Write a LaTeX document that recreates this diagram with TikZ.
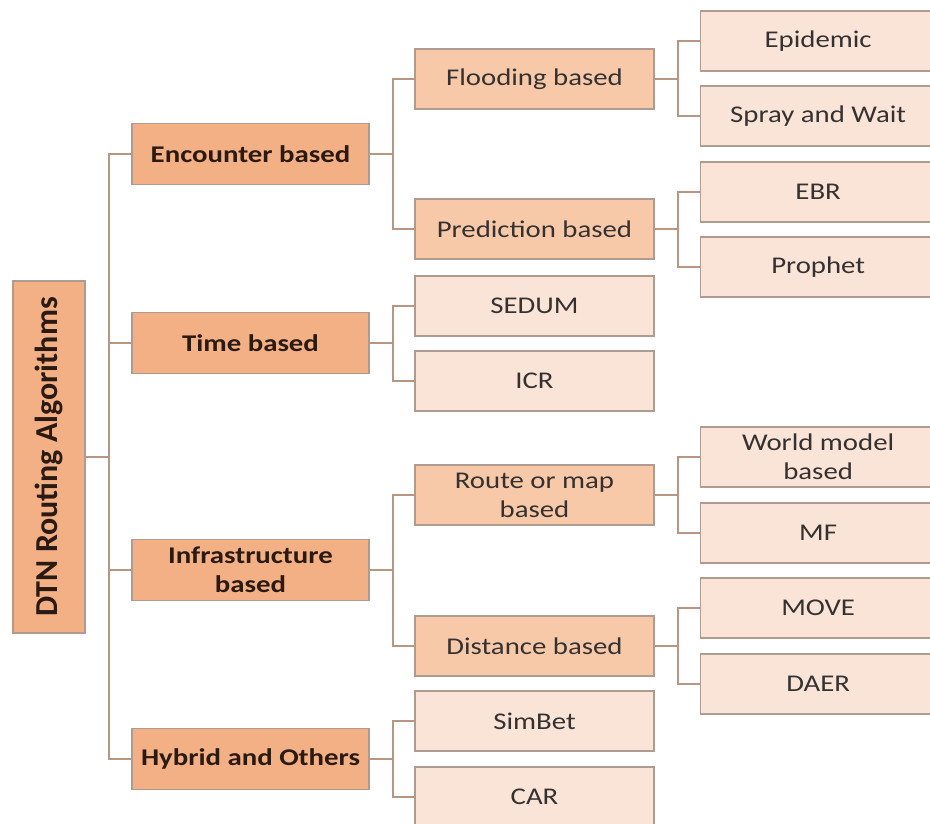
\documentclass[tikz,border=0pt]{standalone}
\usepackage{fontspec}
\setmainfont{Carlito}[FakeStretch=1.2]
\newfontfamily\rootfont{Carlito}
\definecolor{fillTop}{HTML}{F3B085}
\definecolor{fillMid}{HTML}{F7C9A9}
\definecolor{fillLeaf}{HTML}{FAE4D7}
\definecolor{boxLine}{HTML}{AE9C90}
\definecolor{linkLine}{HTML}{B99682}
\definecolor{textTop}{HTML}{2A1A12}
\definecolor{textLow}{HTML}{353130}
\begin{document}
\begin{tikzpicture}[x=1pt,y=-1pt,
  box/.style={draw=boxLine, line width=1.3pt, inner sep=0pt, align=center,
    font=\fontsize{24}{29}\selectfont, text=textLow},
  rootbox/.style={box, fill=fillTop, rotate=90, minimum width=352pt, minimum height=72pt,
    font=\rootfont\fontsize{32}{36}\selectfont\bfseries, text=textTop},
  topbox/.style={box, fill=fillTop, minimum width=237pt, minimum height=61pt,
    font=\fontsize{24}{29}\selectfont\bfseries, text=textTop},
  midbox/.style={box, fill=fillMid, minimum width=239pt, minimum height=60pt},
  lowbox/.style={box, fill=fillLeaf, minimum width=239pt, minimum height=60pt},
  leafbox/.style={box, fill=fillLeaf, anchor=west, minimum width=245pt, minimum height=60pt},
  link/.style={draw=linkLine, line width=1.9pt}]
\useasboundingbox (0,0) rectangle (930,824);
\fill[white] (0,0) rectangle (930,824);
\clip (0,0) rectangle (930,824);

% root
\node[rootbox] (root) at (49,457) {DTN Routing Algorithms};

% first level
\node[topbox] (enc) at (250.5,154) {Encounter based};
\node[topbox] (tim) at (250.5,343) {Time based};
\node[topbox] (inf) at (250.5,570) {Infrastructure\\based};
\node[topbox] (hyb) at (250.5,759) {Hybrid and Others};

% second level
\node[midbox] (flo) at (534.5,79) {Flooding based};
\node[midbox] (pre) at (534.5,229) {Prediction based};
\node[lowbox] (sed) at (534.5,306) {SEDUM};
\node[lowbox] (icr) at (534.5,381) {ICR};
\node[midbox] (rou) at (534.5,495) {Route or map\\based};
\node[midbox] (dis) at (534.5,646) {Distance based};
\node[lowbox] (sim) at (534.5,721) {SimBet};
\node[lowbox] (car) at (534.5,797) {CAR};

% leaves (right edges run past the page)
\node[leafbox] (epi) at (700,41) {\hspace*{-10pt}Epidemic};
\node[leafbox] (spr) at (700,116) {\hspace*{-10pt}Spray and Wait};
\node[leafbox] (ebr) at (700,192) {\hspace*{-10pt}EBR};
\node[leafbox] (pro) at (700,267) {\hspace*{-10pt}Prophet};
\node[leafbox] (wor) at (700,457) {\hspace*{-10pt}World model\\\hspace*{-10pt}based};
\node[leafbox] (mf)  at (700,533) {\hspace*{-10pt}MF};
\node[leafbox] (mov) at (700,608) {\hspace*{-10pt}MOVE};
\node[leafbox] (dae) at (700,684) {\hspace*{-10pt}DAER};

% elbow connectors
\foreach \c in {enc,tim,inf,hyb}
  \draw[link] (root.south) -- ++(23,0) |- (\c.west);
\foreach \c in {flo,pre} \draw[link] (enc.east) -- ++(23,0) |- (\c.west);
\foreach \c in {sed,icr} \draw[link] (tim.east) -- ++(23,0) |- (\c.west);
\foreach \c in {rou,dis} \draw[link] (inf.east) -- ++(23,0) |- (\c.west);
\foreach \c in {sim,car} \draw[link] (hyb.east) -- ++(23,0) |- (\c.west);
\foreach \c in {epi,spr} \draw[link] (flo.east) -- ++(23,0) |- (\c.west);
\foreach \c in {ebr,pro} \draw[link] (pre.east) -- ++(23,0) |- (\c.west);
\foreach \c in {wor,mf} \draw[link] (rou.east) -- ++(23,0) |- (\c.west);
\foreach \c in {mov,dae} \draw[link] (dis.east) -- ++(23,0) |- (\c.west);
\end{tikzpicture}
\end{document}
